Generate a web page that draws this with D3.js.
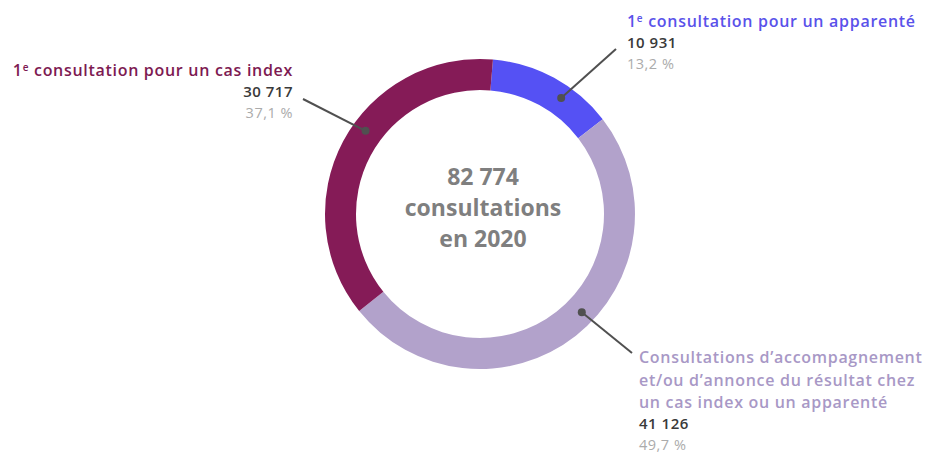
<!DOCTYPE html>
<html>
<head>
<meta charset="utf-8">
<script src="https://cdn.jsdelivr.net/npm/d3@7"></script>
<style>
  body { margin: 0; background: #fff; }
  svg { display: block; }
  .lbl { font-family: "Open Sans", sans-serif; font-weight: 600; letter-spacing: 0.7px; }
  .num { font-family: "Open Sans", sans-serif; font-weight: 600; letter-spacing: 0.5px; }
  .pct { font-family: "Open Sans", sans-serif; letter-spacing: 0.5px; }
  .center { font-family: "Open Sans", sans-serif; font-weight: 700; fill: #7f7f7f; }
</style>
</head>
<body>
<div id="chart"></div>
<script>
// consultations 2020
var categories = [
    ["1", "consultation pour un apparenté"],
    ["Consultations d\u2019accompagnement", "et/ou d\u2019annonce du résultat chez", "un cas index ou un apparenté"],
    ["1", "consultation pour un cas index"]
];
var values = [10931, 41126, 30717];
var colors = ["#5551f4", "#b2a2cb", "#851b57"];
var labelColors = ["#5a52ea", "#a898c6", "#7d1a52"];
var year = "2020";

var width = 935, height = 454;
var cx = 480, cy = 214;
var outerR = 155, innerR = 124;

var loc = d3.formatLocale({decimal: ",", thousands: "\u00a0", grouping: [3], currency: ["", "€"]});
var fmtInt = loc.format(",d");
var fmtPct = loc.format(".1f");

var total = d3.sum(values);

var svg = d3.select("#chart").append("svg")
    .attr("width", width)
    .attr("height", height);

var g = svg.append("g")
    .attr("transform", "translate(" + cx + "," + cy + ")");

var startA = 4.8 * Math.PI / 180;
var pie = d3.pie()
    .sort(null)
    .startAngle(startA)
    .endAngle(startA + 2 * Math.PI)
    .value(function(d){ return d; });

var arc = d3.arc()
    .innerRadius(innerR)
    .outerRadius(outerR);

var arcs = pie(values);

g.selectAll(".slice")
    .data(arcs)
    .enter().append("path")
    .attr("class", "slice")
    .attr("d", arc)
    .attr("fill", function(d, i){ return colors[i]; });

// centre text
var centerLines = [fmtInt(total), "consultations", "en " + year];
g.selectAll(".center")
    .data(centerLines)
    .enter().append("text")
    .attr("class", "center")
    .attr("text-anchor", "middle")
    .attr("x", 3)
    .attr("y", function(d, i){ return -29 + i * 31; })
    .attr("font-size", 23)
    .text(function(d){ return d; });

// label layout: dot angle (deg), line end, text anchor, text position
var layout = [
    {dot: 35, end: [616, 49], anchor: "start", x: 627, y: 27},
    {dot: 134, end: [632, 353], anchor: "start", x: 639, y: 363},
    {dot: 306, end: [303, 99], anchor: "end", x: 293, y: 76}
];
var lineH = 22.5;
var fs = 16;

arcs.forEach(function(d, i){
    var L = layout[i];
    var a = L.dot * Math.PI / 180, r = (innerR + outerR) / 2 + 2;
    var px = cx + r * Math.sin(a), py = cy - r * Math.cos(a);

    svg.append("line")
        .attr("x1", px).attr("y1", py)
        .attr("x2", L.end[0]).attr("y2", L.end[1])
        .attr("stroke", "#505050")
        .attr("stroke-width", 2);
    svg.append("circle")
        .attr("cx", px).attr("cy", py)
        .attr("r", 4)
        .attr("fill", "#505050");

    var lines = categories[i];
    var t = svg.append("g");
    var y0;
    if (lines.length == 2) {
        var tx = t.append("text")
            .attr("class", "lbl")
            .attr("x", L.x).attr("y", L.y)
            .attr("text-anchor", L.anchor)
            .attr("font-size", fs)
            .attr("fill", labelColors[i]);
        tx.append("tspan").text(lines[0]);
        tx.append("tspan").attr("font-size", 10).attr("dy", -5).text("e");
        tx.append("tspan").attr("dy", 5).text(" " + lines[1]);
        y0 = L.y;
    } else {
        lines.forEach(function(s, k){
            t.append("text")
                .attr("class", "lbl")
                .attr("x", L.x).attr("y", L.y + k * lineH)
                .attr("text-anchor", L.anchor)
                .attr("font-size", fs)
                .attr("fill", labelColors[i])
                .text(s);
        });
        y0 = L.y + (lines.length - 1) * lineH;
    }
    t.append("text")
        .attr("class", "num")
        .attr("x", L.x).attr("y", y0 + 21)
        .attr("text-anchor", L.anchor)
        .attr("font-size", 15)
        .attr("fill", "#3a3a3a")
        .text(fmtInt(d.data));
    t.append("text")
        .attr("class", "pct")
        .attr("x", L.x).attr("y", y0 + 41.5)
        .attr("text-anchor", L.anchor)
        .attr("font-size", 14.5)
        .attr("fill", "#ababab")
        .text(fmtPct(d.data / total * 100) + "\u00a0%");
});
</script>
</body>
</html>
